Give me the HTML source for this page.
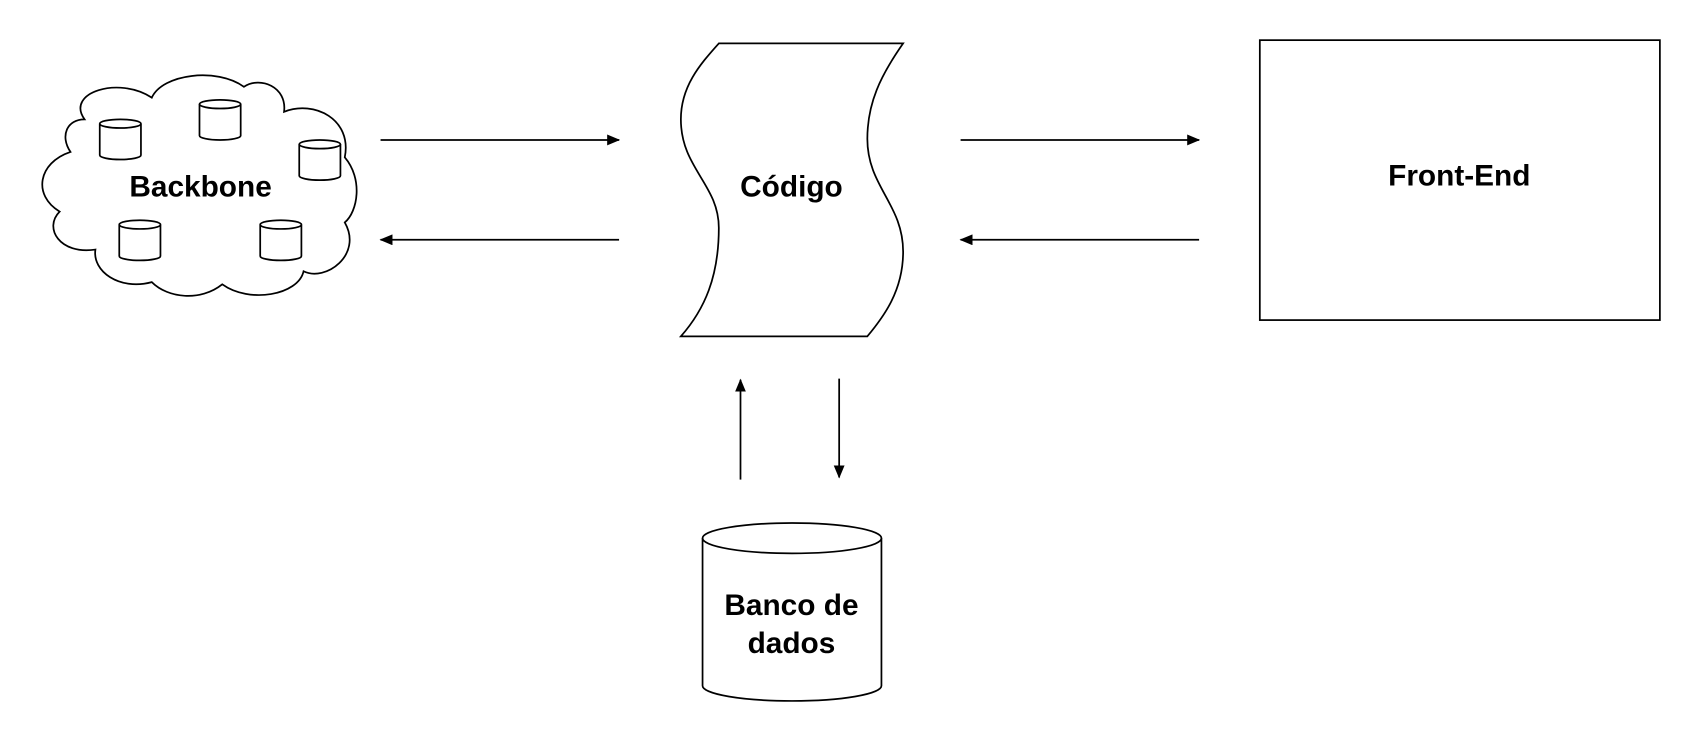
<!DOCTYPE html>
<html><head><meta charset="utf-8"><style>
html,body{margin:0;padding:0;background:#fff;}
svg{display:block;}
text{font-family:"Liberation Sans",Arial,sans-serif;font-weight:bold;font-size:27.5px;fill:#000;text-anchor:middle;}
</style></head><body>
<svg width="1700" height="740" viewBox="0 0 1568 682" preserveAspectRatio="none">
<defs>
<marker id="ah" markerWidth="12" markerHeight="10" refX="11" refY="5" orient="auto" markerUnits="userSpaceOnUse">
<path d="M0,0 L12,5 L0,10 Z" fill="#000"/>
</marker>
<g id="c" fill="#fff" stroke="#000" stroke-width="1.6">
<path d="M0,4 L0,33 A19,4 0 0 0 38,33 L38,4"/>
<ellipse cx="19" cy="4" rx="19" ry="4"/>
</g>
</defs>
<g fill="#fff" stroke="#000" stroke-width="1.6">
<path d="M78,110 C60,85 110,70 140,90 C150,68 200,62 225,80 C240,70 265,80 262,103 C290,92 325,110 318,145 C335,165 330,195 318,205 C335,235 300,260 280,250 C275,272 230,280 205,262 C185,278 155,275 140,260 C110,268 85,250 88,230 C55,235 40,210 55,195 C30,180 35,150 65,140 C55,125 62,110 78,110 Z"/>
<use href="#c" x="92" y="110"/>
<use href="#c" x="184" y="92"/>
<use href="#c" x="276" y="129"/>
<use href="#c" x="110" y="203"/>
<use href="#c" x="240" y="203"/>
<path d="M663,40 L833,40 C812,70 800,95 800,128 C800,172 833,188 833,232 C833,268 815,292 800,310 L628,310 C650,285 663,255 663,210 C663,170 628,155 628,110 C628,80 645,60 663,40 Z"/>
<rect x="1162" y="37" width="369" height="258"/>
<path d="M648,496 L648,632 A82.5,14 0 0 0 813,632 L813,496"/>
<ellipse cx="730.5" cy="496" rx="82.5" ry="14"/>
</g>
<g stroke="#000" stroke-width="1.6" fill="none">
<line x1="351" y1="129" x2="571" y2="129" marker-end="url(#ah)"/>
<line x1="571" y1="221" x2="351" y2="221" marker-end="url(#ah)"/>
<line x1="886" y1="129" x2="1106" y2="129" marker-end="url(#ah)"/>
<line x1="1106" y1="221" x2="886" y2="221" marker-end="url(#ah)"/>
<line x1="683" y1="442" x2="683" y2="350" marker-end="url(#ah)"/>
<line x1="774" y1="349" x2="774" y2="440" marker-end="url(#ah)"/>
</g>
<text x="185" y="181">Backbone</text>
<text x="730" y="181">Código</text>
<text x="1346" y="171">Front-End</text>
<text x="730" y="567">Banco de</text>
<text x="730" y="602">dados</text>
</svg>
</body></html>
